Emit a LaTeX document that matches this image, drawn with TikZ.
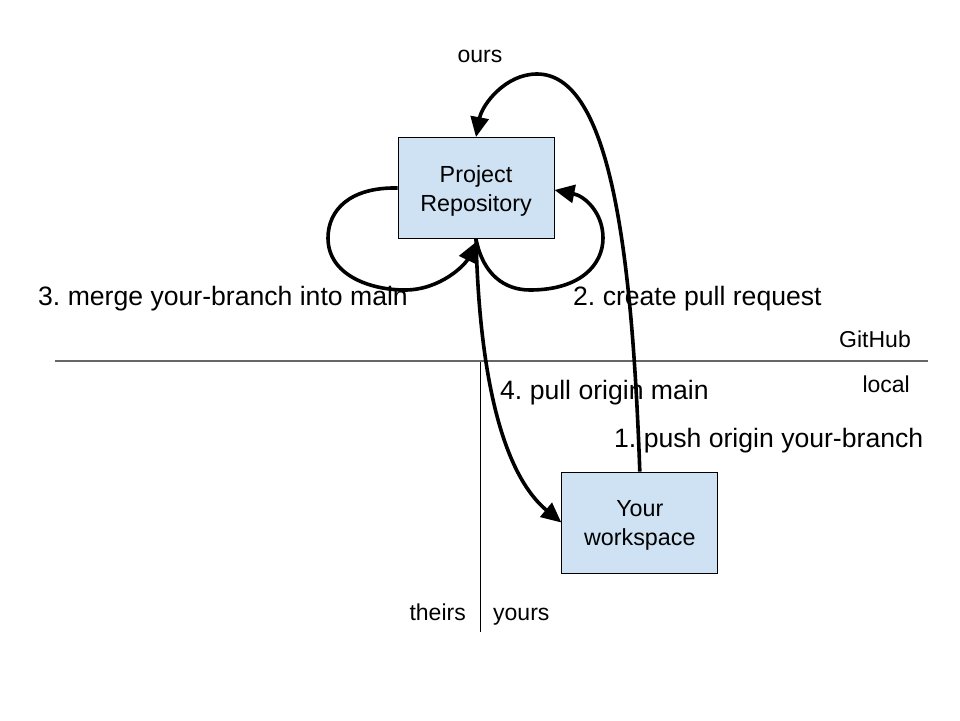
\documentclass[tikz,border=0pt]{standalone}
\usepackage{fontspec}
\setmainfont{Liberation Sans}
\usetikzlibrary{arrows.meta}
\definecolor{boxblue}{HTML}{CFE2F3}
\frenchspacing
\begin{document}
\begin{tikzpicture}[x=1pt,y=-1pt,
  box/.style={draw=black,line width=0.9pt,fill=boxblue,minimum width=156pt,minimum height=101pt,inner sep=0pt},
  boxtext/.style={align=center,font=\fontsize{23.3}{29}\selectfont,inner sep=0pt},
  small/.style={font=\fontsize{23}{28}\selectfont,inner sep=0pt},
  big/.style={font=\fontsize{26.6}{32}\selectfont,inner sep=0pt},
  conn/.style={line width=3.6pt,-{Triangle[length=20pt,width=18pt]}}]
\useasboundingbox (0,0) rectangle (960,720);
\fill[white] (0,0) rectangle (960,720);
% separators
\coordinate (hl) at (55,361);
\coordinate (hr) at (928,361);
\coordinate (vt) at (480,362);
\coordinate (vb) at (480,632);
\draw[black!60,line width=1.2pt] (hl) -- (hr);
\draw[black,line width=1pt] (vt) -- (vb);
% boxes
\node[box] (repo) at (476,188) {};
\node[boxtext] (repotext) at (476,191.3) {Project\\Repository};
\node[box] (work) at (639.8,522.5) {};
\node[boxtext] (worktext) at (639.8,525.3) {Your\\workspace};
% 1. push
\draw[conn] (work.north) .. controls (632,250) and (610,74) .. (537,74)
  .. controls (505,74) and (482,105) .. (repo.north);
% 2. create pull request
\draw[conn] (repo.south) .. controls (483,275) and (505,290) .. (530,290)
  .. controls (580,290) and (603,265) .. (603,238)
  .. controls (603,213) and (585,196) .. ([yshift=-2pt]repo.east);
% 3. merge
\draw[conn] (repo.west) .. controls (350,187) and (328,210) .. (328,238)
  .. controls (328,275) and (370,290) .. (405,290)
  .. controls (440,290) and (465,265) .. ([yshift=-3pt]repo.south);
% 4. pull
\draw[conn] (repo.south) .. controls (480,400) and (510,480) .. (work.west);
% labels
\node[small,anchor=base] (ours) at (480,62) {ours};
\node[big,anchor=base west] (l3) at (38,305) {3. merge your-branch into main};
\node[big,anchor=base west] (l2) at (573,305) {2. create pull request};
\node[small,anchor=base east] (gh) at (911,347) {GitHub};
\node[small,anchor=base east] (loc) at (910,392) {local};
\node[big,anchor=base west] (l4) at (500,399) {4. pull origin main};
\node[big,anchor=base west] (l1) at (614,447) {1. push origin your-branch};
\node[small,anchor=base east] (theirs) at (466,620) {theirs};
\node[small,anchor=base west] (yours) at (493,620) {yours};
\end{tikzpicture}
\end{document}
